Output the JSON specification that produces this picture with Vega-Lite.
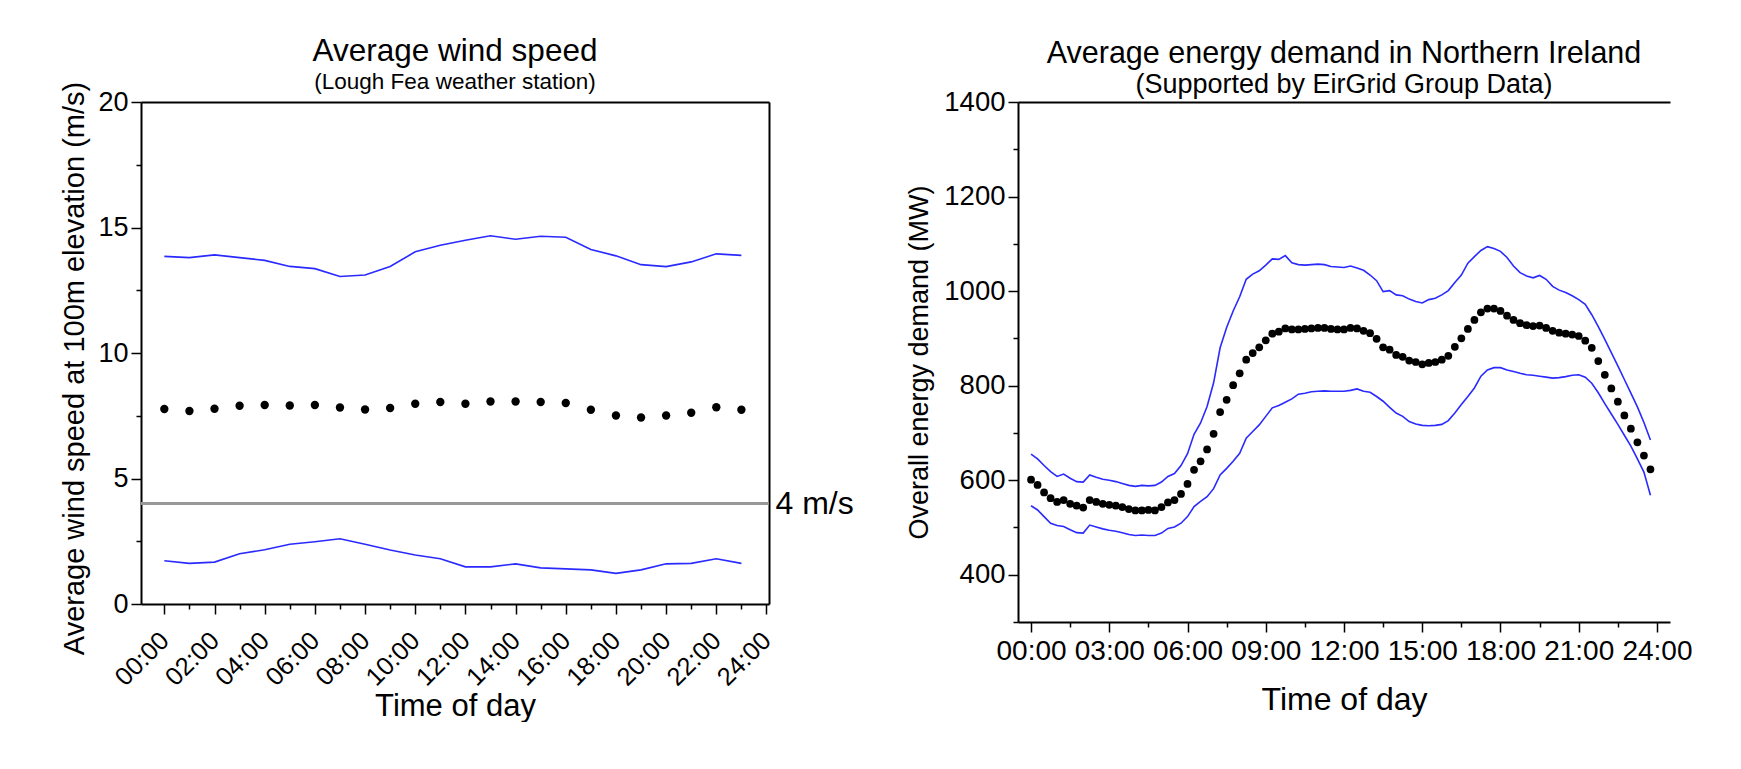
{
  "$schema": "https://vega.github.io/schema/vega-lite/v6.json",
  "padding": {"left": 60, "top": 36, "right": 0, "bottom": 0},
  "spacing": 51,
  "config": {
    "view": {"stroke": null},
    "font": "Liberation Sans",
    "axis": {
      "domainColor": "black", "domainWidth": 2, "tickColor": "black", "tickWidth": 1.5,
      "labelFont": "Liberation Sans", "labelFontSize": 26, "labelColor": "black",
      "titleFont": "Liberation Sans", "titleFontSize": 29, "titleFontWeight": "normal", "titleColor": "black",
      "grid": false, "labelOverlap": false, "labelFlush": false, "labelBound": false, "labelPadding": 3
    },
    "title": {
      "font": "Liberation Sans", "fontSize": 30, "fontWeight": "normal", "color": "black",
      "subtitleFont": "Liberation Sans", "subtitleFontSize": 23, "subtitleColor": "black",
      "anchor": "middle", "offset": -12, "subtitlePadding": 3
    }
  },
  "hconcat": [
    {
      "width": 628,
      "height": 502,
      "title": {"text": "Average wind speed", "subtitle": "(Lough Fea weather station)", "fontSize": 31.5, "subtitleFontSize": 22.5},
      "data": {"values": [
        {"hour": 0, "upper": 13.85, "mean": 7.77, "lower": 1.72},
        {"hour": 1, "upper": 13.80, "mean": 7.69, "lower": 1.62},
        {"hour": 2, "upper": 13.91, "mean": 7.78, "lower": 1.67},
        {"hour": 3, "upper": 13.80, "mean": 7.90, "lower": 2.00},
        {"hour": 4, "upper": 13.69, "mean": 7.93, "lower": 2.16},
        {"hour": 5, "upper": 13.45, "mean": 7.91, "lower": 2.38},
        {"hour": 6, "upper": 13.36, "mean": 7.93, "lower": 2.48},
        {"hour": 7, "upper": 13.05, "mean": 7.83, "lower": 2.60},
        {"hour": 8, "upper": 13.11, "mean": 7.75, "lower": 2.38},
        {"hour": 9, "upper": 13.45, "mean": 7.81, "lower": 2.15},
        {"hour": 10, "upper": 14.03, "mean": 7.98, "lower": 1.95},
        {"hour": 11, "upper": 14.29, "mean": 8.05, "lower": 1.80},
        {"hour": 12, "upper": 14.49, "mean": 7.98, "lower": 1.48},
        {"hour": 13, "upper": 14.67, "mean": 8.07, "lower": 1.48},
        {"hour": 14, "upper": 14.53, "mean": 8.07, "lower": 1.60},
        {"hour": 15, "upper": 14.65, "mean": 8.05, "lower": 1.44},
        {"hour": 16, "upper": 14.61, "mean": 8.01, "lower": 1.40},
        {"hour": 17, "upper": 14.12, "mean": 7.74, "lower": 1.36},
        {"hour": 18, "upper": 13.87, "mean": 7.51, "lower": 1.22},
        {"hour": 19, "upper": 13.52, "mean": 7.43, "lower": 1.36},
        {"hour": 20, "upper": 13.44, "mean": 7.51, "lower": 1.60},
        {"hour": 21, "upper": 13.63, "mean": 7.62, "lower": 1.62},
        {"hour": 22, "upper": 13.95, "mean": 7.84, "lower": 1.80},
        {"hour": 23, "upper": 13.89, "mean": 7.74, "lower": 1.62}
      ]},
      "resolve": {"axis": {"x": "independent", "y": "independent"}},
      "layer": [
        {
          "mark": {"type": "rule", "color": "#999999", "strokeWidth": 1.5},
          "encoding": {
            "y": {"datum": 4, "type": "quantitative", "scale": {"domain": [0, 20], "nice": false}, "axis": null}
          }
        },
        {
          "mark": {"type": "line", "color": "#2a2aff", "strokeWidth": 1.6},
          "encoding": {
            "x": {"field": "hour", "type": "quantitative", "scale": {"domain": [-0.93, 24.1], "nice": false, "zero": false},
              "axis": {"orient": "bottom", "values": [0,1,2,3,4,5,6,7,8,9,10,11,12,13,14,15,16,17,18,19,20,21,22,23,24],
                "labelExpr": "datum.value % 2 === 0 ? ((datum.value < 10 ? '0' : '') + datum.value + ':00') : ''",
                "labelAngle": -45, "labelAlign": "right", "labelBaseline": "middle", "labelFontSize": 25.5,
                "labelPadding": 22,
                "tickSize": {"condition": {"test": "datum.value % 2 === 0", "value": 10}, "value": 5},
                "title": "Time of day", "titleFontSize": 31, "titlePadding": 1}},
            "y": {"field": "upper", "type": "quantitative", "scale": {"domain": [0, 20], "nice": false},
              "axis": {"orient": "left", "values": [0, 2.5, 5, 7.5, 10, 12.5, 15, 17.5, 20],
                "labelExpr": "datum.value % 5 === 0 ? datum.value : ''", "labelFontSize": 27,
                "tickSize": {"condition": {"test": "datum.value % 5 === 0", "value": 10}, "value": 5},
                "title": "Average wind speed at 100m elevation (m/s)", "titlePadding": 8, "titleY": 266}}
          }
        },
        {
          "mark": {"type": "line", "color": "#2a2aff", "strokeWidth": 1.6},
          "encoding": {
            "x": {"field": "hour", "type": "quantitative",
              "axis": {"orient": "top", "ticks": false, "labels": false, "title": null, "minExtent": 0, "maxExtent": 0}},
            "y": {"field": "lower", "type": "quantitative",
              "axis": {"orient": "right", "values": [4], "ticks": false, "labelExpr": "'4 m/s'", "labelPadding": 6, "labelFontSize": 32, "title": null}}
          }
        },
        {
          "mark": {"type": "point", "filled": true, "color": "black", "size": 70, "opacity": 1},
          "encoding": {
            "x": {"field": "hour", "type": "quantitative", "axis": null},
            "y": {"field": "mean", "type": "quantitative", "axis": null}
          }
        }
      ]
    },
    {
      "width": 652,
      "height": 520,
      "title": {"text": "Average energy demand in Northern Ireland", "subtitle": "(Supported by EirGrid Group Data)", "fontSize": 30.5, "subtitleFontSize": 27, "offset": -10},
      "data": {"values": [
        {"t": 0.00, "mean": 601, "upper": 655, "lower": 546},
        {"t": 0.25, "mean": 590, "upper": 645, "lower": 537},
        {"t": 0.50, "mean": 574, "upper": 631, "lower": 523},
        {"t": 0.75, "mean": 562, "upper": 618, "lower": 509},
        {"t": 1.00, "mean": 554, "upper": 608, "lower": 504},
        {"t": 1.25, "mean": 558, "upper": 613, "lower": 502},
        {"t": 1.50, "mean": 550, "upper": 604, "lower": 495},
        {"t": 1.75, "mean": 546, "upper": 597, "lower": 489},
        {"t": 2.00, "mean": 542, "upper": 596, "lower": 488},
        {"t": 2.25, "mean": 558, "upper": 611, "lower": 505},
        {"t": 2.50, "mean": 554, "upper": 606, "lower": 501},
        {"t": 2.75, "mean": 550, "upper": 602, "lower": 497},
        {"t": 3.00, "mean": 548, "upper": 600, "lower": 494},
        {"t": 3.25, "mean": 546, "upper": 597, "lower": 492},
        {"t": 3.50, "mean": 543, "upper": 593, "lower": 489},
        {"t": 3.75, "mean": 539, "upper": 589, "lower": 485},
        {"t": 4.00, "mean": 536, "upper": 587, "lower": 483},
        {"t": 4.25, "mean": 536, "upper": 589, "lower": 484},
        {"t": 4.50, "mean": 537, "upper": 588, "lower": 483},
        {"t": 4.75, "mean": 536, "upper": 589, "lower": 483},
        {"t": 5.00, "mean": 543, "upper": 596, "lower": 488},
        {"t": 5.25, "mean": 553, "upper": 608, "lower": 498},
        {"t": 5.50, "mean": 558, "upper": 614, "lower": 501},
        {"t": 5.75, "mean": 571, "upper": 631, "lower": 509},
        {"t": 6.00, "mean": 592, "upper": 656, "lower": 523},
        {"t": 6.25, "mean": 622, "upper": 697, "lower": 544},
        {"t": 6.50, "mean": 640, "upper": 721, "lower": 555},
        {"t": 6.75, "mean": 665, "upper": 756, "lower": 565},
        {"t": 7.00, "mean": 698, "upper": 806, "lower": 582},
        {"t": 7.25, "mean": 744, "upper": 880, "lower": 611},
        {"t": 7.50, "mean": 770, "upper": 923, "lower": 625},
        {"t": 7.75, "mean": 801, "upper": 958, "lower": 640},
        {"t": 8.00, "mean": 826, "upper": 988, "lower": 657},
        {"t": 8.25, "mean": 855, "upper": 1025, "lower": 689},
        {"t": 8.50, "mean": 869, "upper": 1036, "lower": 703},
        {"t": 8.75, "mean": 881, "upper": 1043, "lower": 717},
        {"t": 9.00, "mean": 896, "upper": 1055, "lower": 735},
        {"t": 9.25, "mean": 910, "upper": 1068, "lower": 753},
        {"t": 9.50, "mean": 914, "upper": 1067, "lower": 758},
        {"t": 9.75, "mean": 921, "upper": 1075, "lower": 765},
        {"t": 10.00, "mean": 919, "upper": 1060, "lower": 772},
        {"t": 10.25, "mean": 919, "upper": 1056, "lower": 782},
        {"t": 10.50, "mean": 920, "upper": 1055, "lower": 784},
        {"t": 10.75, "mean": 921, "upper": 1056, "lower": 787},
        {"t": 11.00, "mean": 922, "upper": 1057, "lower": 788},
        {"t": 11.25, "mean": 922, "upper": 1056, "lower": 789},
        {"t": 11.50, "mean": 920, "upper": 1052, "lower": 788},
        {"t": 11.75, "mean": 919, "upper": 1051, "lower": 788},
        {"t": 12.00, "mean": 919, "upper": 1050, "lower": 788},
        {"t": 12.25, "mean": 922, "upper": 1053, "lower": 790},
        {"t": 12.50, "mean": 921, "upper": 1049, "lower": 793},
        {"t": 12.75, "mean": 916, "upper": 1044, "lower": 788},
        {"t": 13.00, "mean": 911, "upper": 1034, "lower": 786},
        {"t": 13.25, "mean": 899, "upper": 1022, "lower": 777},
        {"t": 13.50, "mean": 881, "upper": 999, "lower": 767},
        {"t": 13.75, "mean": 876, "upper": 1001, "lower": 754},
        {"t": 14.00, "mean": 865, "upper": 992, "lower": 742},
        {"t": 14.25, "mean": 861, "upper": 990, "lower": 735},
        {"t": 14.50, "mean": 853, "upper": 983, "lower": 724},
        {"t": 14.75, "mean": 850, "upper": 978, "lower": 719},
        {"t": 15.00, "mean": 845, "upper": 975, "lower": 716},
        {"t": 15.25, "mean": 848, "upper": 982, "lower": 715},
        {"t": 15.50, "mean": 850, "upper": 985, "lower": 716},
        {"t": 15.75, "mean": 855, "upper": 992, "lower": 718},
        {"t": 16.00, "mean": 863, "upper": 1001, "lower": 726},
        {"t": 16.25, "mean": 882, "upper": 1018, "lower": 742},
        {"t": 16.50, "mean": 900, "upper": 1034, "lower": 760},
        {"t": 16.75, "mean": 920, "upper": 1059, "lower": 777},
        {"t": 17.00, "mean": 939, "upper": 1073, "lower": 795},
        {"t": 17.25, "mean": 955, "upper": 1086, "lower": 820},
        {"t": 17.50, "mean": 963, "upper": 1094, "lower": 833},
        {"t": 17.75, "mean": 963, "upper": 1090, "lower": 838},
        {"t": 18.00, "mean": 958, "upper": 1084, "lower": 838},
        {"t": 18.25, "mean": 948, "upper": 1071, "lower": 833},
        {"t": 18.50, "mean": 939, "upper": 1053, "lower": 830},
        {"t": 18.75, "mean": 932, "upper": 1039, "lower": 826},
        {"t": 19.00, "mean": 928, "upper": 1032, "lower": 823},
        {"t": 19.25, "mean": 926, "upper": 1028, "lower": 822},
        {"t": 19.50, "mean": 927, "upper": 1033, "lower": 820},
        {"t": 19.75, "mean": 922, "upper": 1025, "lower": 818},
        {"t": 20.00, "mean": 916, "upper": 1010, "lower": 816},
        {"t": 20.25, "mean": 912, "upper": 1002, "lower": 817},
        {"t": 20.50, "mean": 910, "upper": 997, "lower": 819},
        {"t": 20.75, "mean": 908, "upper": 990, "lower": 822},
        {"t": 21.00, "mean": 905, "upper": 982, "lower": 823},
        {"t": 21.25, "mean": 895, "upper": 972, "lower": 818},
        {"t": 21.50, "mean": 880, "upper": 950, "lower": 805},
        {"t": 21.75, "mean": 852, "upper": 925, "lower": 785},
        {"t": 22.00, "mean": 823, "upper": 898, "lower": 762},
        {"t": 22.25, "mean": 794, "upper": 870, "lower": 740},
        {"t": 22.50, "mean": 766, "upper": 842, "lower": 718},
        {"t": 22.75, "mean": 737, "upper": 813, "lower": 695},
        {"t": 23.00, "mean": 709, "upper": 784, "lower": 672},
        {"t": 23.25, "mean": 680, "upper": 755, "lower": 645},
        {"t": 23.50, "mean": 652, "upper": 722, "lower": 617},
        {"t": 23.75, "mean": 623, "upper": 685, "lower": 568}
      ]},
      "resolve": {"axis": {"x": "independent", "y": "independent"}},
      "layer": [
        {
          "mark": {"type": "line", "color": "#2a2aff", "strokeWidth": 1.6},
          "encoding": {
            "x": {"field": "t", "type": "quantitative", "scale": {"domain": [-0.5, 24.5], "nice": false, "zero": false},
              "axis": {"orient": "bottom", "values": [0,1.5,3,4.5,6,7.5,9,10.5,12,13.5,15,16.5,18,19.5,21,22.5,24],
                "labelExpr": "datum.value % 3 === 0 ? ((datum.value < 10 ? '0' : '') + datum.value + ':00') : ''",
                "labelAngle": 0, "labelFontSize": 28,
                "tickSize": {"condition": {"test": "datum.value % 3 === 0", "value": 10}, "value": 5},
                "labelPadding": 5,
                "title": "Time of day", "titleFontSize": 32, "titlePadding": 19}},
            "y": {"field": "upper", "type": "quantitative", "scale": {"domain": [300, 1400], "nice": false, "zero": false},
              "axis": {"orient": "left", "values": [300,400,500,600,700,800,900,1000,1100,1200,1300,1400],
                "labelExpr": "datum.value % 200 === 0 ? datum.value : ''", "labelFontSize": 27.5,
                "tickSize": {"condition": {"test": "datum.value % 200 === 0", "value": 10}, "value": 5},
                "title": "Overall energy demand (MW)", "titleFontSize": 27, "titlePadding": 10}}
          }
        },
        {
          "mark": {"type": "line", "color": "#2a2aff", "strokeWidth": 1.6},
          "encoding": {
            "x": {"field": "t", "type": "quantitative",
              "axis": {"orient": "top", "ticks": false, "labels": false, "title": null, "minExtent": 0, "maxExtent": 0}},
            "y": {"field": "lower", "type": "quantitative", "axis": null}
          }
        },
        {
          "mark": {"type": "point", "filled": true, "color": "black", "size": 60, "opacity": 1},
          "encoding": {
            "x": {"field": "t", "type": "quantitative", "axis": null},
            "y": {"field": "mean", "type": "quantitative", "axis": null}
          }
        }
      ]
    }
  ]
}
